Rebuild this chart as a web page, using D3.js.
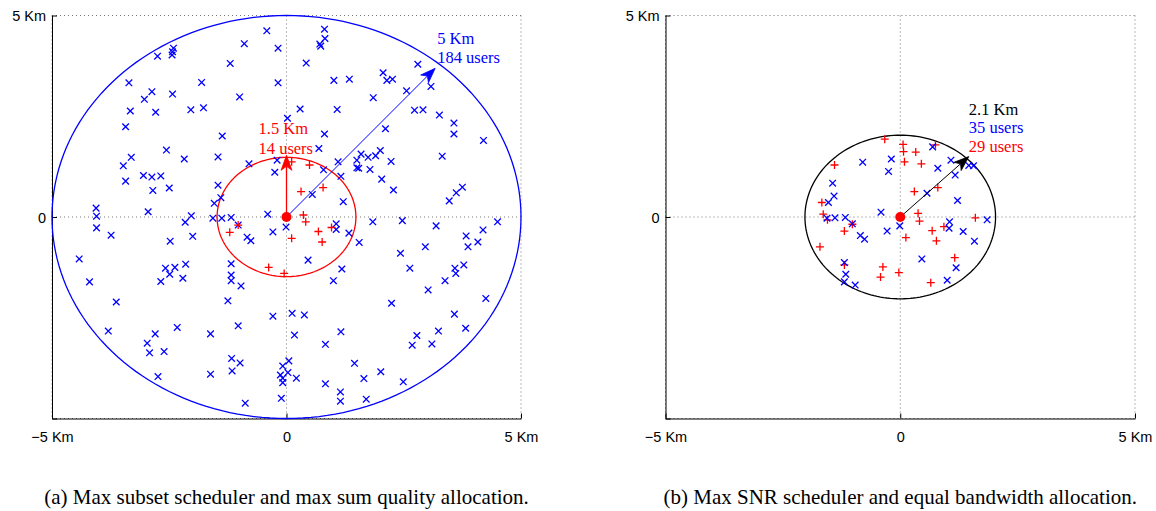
<!DOCTYPE html>
<html><head><meta charset="utf-8">
<script src="https://cdn.jsdelivr.net/npm/d3@7"></script>
<style>body{margin:0;background:#fff} svg{display:block}</style>
</head><body>
<svg id="chart" width="1156" height="511"></svg>
<script>
// ---------- data (km) ----------
const axisTicks = [-5, 0, 5];
const axisTickLabels = ["\u22125 Km", "0", "5 Km"];

// Panel (a): users not served (blue x) and served (red +)
const aUnserved = [
[-0.42,4.62],[-0.90,4.30],[-0.18,4.19],[-2.41,4.19],[-2.43,4.10],[-2.75,3.99],[-2.44,4.02],[-1.20,3.81],[-3.36,3.33],[-1.81,3.34],[-0.18,3.33],[-2.87,3.11],[-3.03,2.92],[-2.43,3.05],[-1.00,2.98],[-3.33,2.63],[-2.79,2.60],[-2.04,2.66],[-1.77,2.71],[-3.43,2.24],[-1.37,2.01],[0.02,2.45],[-2.56,1.66],[-3.31,1.48],[-3.48,1.27],[-2.18,1.44],[-1.46,1.49],[-0.80,1.32],[-0.20,1.41],[-0.25,1.11],[-3.43,0.89],[-3.05,1.03],[-2.87,0.99],[-2.68,1.02],[-2.85,0.66],[-2.50,0.72],[-1.46,0.79],[-1.40,0.48],[-1.54,0.34],[-4.06,0.22],[-4.05,0.02],[-2.95,0.13],[-2.03,0.03],[-1.57,-0.03],[-1.18,-0.01],[-0.40,0.07],
[-4.05,-0.27],[-2.16,-0.13],[-1.38,-0.03],[-1.03,-0.20],[-3.74,-0.45],[-2.00,-0.48],[-2.48,-0.60],[-0.84,-0.50],[-0.76,-0.59],[-0.29,-0.37],[-0.01,-0.25],[-4.42,-1.04],[-1.18,-1.16],[-2.15,-1.17],[-2.58,-1.27],[-2.38,-1.25],[-2.49,-1.42],[-2.21,-1.52],[-2.68,-1.60],[-4.20,-1.61],[-1.18,-1.44],[-1.18,-1.58],[-0.97,-1.71],[-1.25,-2.08],[-3.63,-2.11],[-0.29,-2.46],[-1.03,-2.70],[-2.33,-2.74],[-3.80,-2.83],[-2.80,-2.90],[-1.62,-2.90],[-2.97,-3.13],[-2.92,-3.37],[-2.61,-3.34],[-1.17,-3.51],[-0.99,-3.62],[-1.16,-3.82],[-1.62,-3.90],[-2.74,-3.96],[-0.88,-4.62],
[1.06,-0.17],[1.06,-0.31],[1.33,-0.40],[1.55,-0.63],[1.84,-0.12],[2.47,-0.09],[3.19,-0.22],[4.50,-0.12],[4.19,-0.32],[3.83,-0.47],[3.87,-0.74],[4.08,-0.62],[2.96,-0.74],[2.43,-0.90],[0.46,-1.07],[1.18,-1.29],[1.00,-1.58],[2.63,-1.27],[3.59,-1.27],[3.61,-1.40],[3.78,-1.19],[3.38,-1.58],[3.02,-1.81],[4.25,-2.02],[2.24,-2.14],[0.12,-2.39],[0.38,-2.43],[3.58,-2.41],[0.17,-2.93],[1.16,-2.85],[2.78,-2.94],[3.24,-2.83],[3.82,-2.76],[0.83,-3.16],[2.68,-3.18],[3.10,-3.15],[1.45,-3.63],[2.01,-3.84],[1.65,-4.01],[0.83,-4.14],[2.49,-4.09],[1.15,-4.34],[1.15,-4.57],[1.70,-4.52],
[0.05,-3.57],[-0.08,-3.70],[0.03,-3.86],[-0.13,-3.92],[-0.08,-4.00],[-0.08,-4.11],[0.21,-4.00],[-0.11,-4.50],
[0.81,4.66],[0.82,4.43],[0.71,4.29],[0.73,4.24],[0.42,3.82],[2.80,3.79],[2.06,3.58],[2.14,3.39],[2.26,3.42],[1.01,3.39],[1.34,3.42],[3.08,3.24],[2.56,3.13],[1.85,2.96],[0.29,2.68],[1.08,2.67],[2.73,2.65],[2.91,2.66],[3.26,2.53],[3.57,2.33],[3.57,2.06],[2.11,2.19],[0.81,2.06],[0.69,1.70],[4.20,1.90],[3.32,1.51],[1.59,1.56],[1.50,1.41],[1.74,1.48],[1.90,1.52],[2.00,1.65],[1.10,1.37],[1.50,1.22],[1.54,1.21],[1.78,1.18],[0.79,1.17],[1.16,1.01],[2.23,1.38],[2.03,0.94],[2.28,0.67],[0.55,0.56],[1.21,0.38],[3.75,0.74],[3.62,0.60],[3.47,0.40]
];
const aServed = [
[0.11,1.37],[0.49,1.29],[0.78,0.73],[0.31,0.63],[0.36,0.05],[0.41,-0.12],[0.11,-0.53],[0.68,-0.36],[0.76,-0.62],[0.96,-0.26],[-0.05,-1.40],[-1.03,-0.20],[-1.21,-0.38],[-0.38,-1.25]
];
const aRadii = [5, 1.48];
const aArrowTips = [[3.17, 3.69], [0, 1.53]];
const aLabels = [["5 Km", "184 users"], ["1.5 Km", "14 users"]];

// Panel (b)
const bUnserved = [
[0.69,1.74],[-0.19,1.44],[-0.80,1.36],[-0.25,1.13],[0.80,1.21],[1.08,1.41],[1.17,1.04],[1.46,1.28],[1.56,1.27],[-1.44,0.84],[-1.41,0.52],[-1.53,0.36],[0.57,0.59],[1.22,0.41],[-0.41,0.12],[-1.56,-0.03],[-1.39,-0.02],[-1.17,-0.01],[-1.02,-0.17],[-0.01,-0.22],[-0.28,-0.35],[-0.85,-0.46],[-0.76,-0.55],[1.05,-0.12],[1.04,-0.28],[1.34,-0.36],[1.85,-0.07],[1.58,-0.60],[0.46,-1.04],[1.19,-1.26],[-1.19,-1.13],[-1.16,-1.42],[-1.19,-1.61],[-0.96,-1.69],[1.00,-1.57]
];
const bServed = [
[-0.33,1.93],[0.06,1.80],[0.07,1.62],[0.33,1.61],[0.75,1.79],[0.09,1.37],[0.45,1.32],[-1.40,1.29],[0.30,0.63],[0.80,0.73],[-1.67,0.36],[-1.64,0.07],[-1.55,-0.07],[0.38,0.09],[0.41,-0.10],[1.60,-0.02],[0.93,-0.24],[-1.02,-0.18],[-1.19,-0.35],[0.68,-0.34],[0.77,-0.59],[0.12,-0.51],[-1.71,-0.74],[1.16,-1.01],[-1.19,-1.19],[-0.37,-1.24],[-0.42,-1.49],[-0.03,-1.38],[0.65,-1.63]
];
const bRadius = 2.03;
const bArrowTip = [1.46, 1.50];
const bLabels = ["2.1 Km", "35 users", "29 users"];

const captions = ["(a) Max subset scheduler and max sum quality allocation.",
                  "(b) Max SNR scheduler and equal bandwidth allocation."];

// ---------- drawing ----------
const svg = d3.select("#chart");
const BLUE = "#0000ff", RED = "#ff0000";
const top_ = 15.5, bottom_ = 418.5;

function panel(x0, x1) {
  const x = d3.scaleLinear().domain([-5, 5]).range([x0, x1]);
  const y = d3.scaleLinear().domain([-5, 5]).range([bottom_, top_]);
  const g = svg.append("g");
  // grid
  g.selectAll(".gx").data(axisTicks).join("line")
    .attr("x1", d => x(d)).attr("x2", d => x(d)).attr("y1", top_).attr("y2", bottom_)
    .attr("stroke", "#777").attr("stroke-width", 1).attr("stroke-dasharray", "1,3");
  g.selectAll(".gy").data(axisTicks).join("line")
    .attr("y1", d => y(d)).attr("y2", d => y(d)).attr("x1", x0).attr("x2", x1)
    .attr("stroke", "#777").attr("stroke-width", 1).attr("stroke-dasharray", "1,3");
  // axes
  const fmt = d => axisTickLabels[axisTicks.indexOf(d)];
  const ax = g.append("g").attr("transform", `translate(0,${bottom_})`)
    .call(d3.axisBottom(x).tickValues(axisTicks).tickFormat(fmt).tickSizeInner(-5).tickSizeOuter(0).tickPadding(13));
  const ay = g.append("g").attr("transform", `translate(${x0},0)`)
    .call(d3.axisLeft(y).tickValues(axisTicks).tickFormat(d => d === axisTicks[0] ? "" : fmt(d)).tickSizeInner(-5).tickSizeOuter(0).tickPadding(6));
  [ax, ay].forEach(a => {
    a.selectAll("text").attr("font-family", "'Liberation Sans', Arial, sans-serif").attr("font-size", 14.5).attr("fill", "#000");
    a.select(".domain").attr("stroke", "#000").attr("stroke-width", 1);
    a.selectAll(".tick line").attr("stroke", "#000");
  });
  ay.selectAll(".tick text").attr("dy", "0.35em");
  return {x, y, g};
}

function circlePath(p, r) {
  const pts = d3.range(0, 361, 2).map(a => [p.x(r * Math.cos(a * Math.PI / 180)), p.y(r * Math.sin(a * Math.PI / 180))]);
  return d3.line()(pts) + "Z";
}
function drawCircle(p, r, color, w) {
  p.g.append("path").attr("d", circlePath(p, r)).attr("fill", "none").attr("stroke", color).attr("stroke-width", w);
}
function drawX(p, data, color) {
  const s = 3.3;
  p.g.append("g").selectAll("path").data(data).join("path")
    .attr("d", d => { const cx = p.x(d[0]), cy = p.y(d[1]);
      return `M${cx-s},${cy-s}L${cx+s},${cy+s}M${cx-s},${cy+s}L${cx+s},${cy-s}`; })
    .attr("stroke", color).attr("stroke-width", 1.3).attr("fill", "none");
}
function drawPlus(p, data, color) {
  const s = 4;
  p.g.append("g").selectAll("path").data(data).join("path")
    .attr("d", d => { const cx = p.x(d[0]), cy = p.y(d[1]);
      return `M${cx-s},${cy}L${cx+s},${cy}M${cx},${cy-s}L${cx},${cy+s}`; })
    .attr("stroke", color).attr("stroke-width", 1.3).attr("fill", "none");
}
function drawArrow(p, tip, color, w) {
  const ox = p.x(0), oy = p.y(0), tx = p.x(tip[0]), ty = p.y(tip[1]);
  const dx = tx - ox, dy = ty - oy, len = Math.hypot(dx, dy);
  const ux = dx / len, uy = dy / len, nx = -uy, ny = ux;
  const L = 15, W = 5.5, N = 11;
  p.g.append("line").attr("x1", ox).attr("y1", oy).attr("x2", tx - ux * N).attr("y2", ty - uy * N)
    .attr("stroke", color).attr("stroke-width", w);
  const bx = tx - ux * L, by = ty - uy * L;
  p.g.append("path")
    .attr("d", `M${tx},${ty}L${bx + nx * W},${by + ny * W}L${tx - ux * N},${ty - uy * N}L${bx - nx * W},${by - ny * W}Z`)
    .attr("fill", color).attr("stroke", color).attr("stroke-width", 0.8);
  return [tx, ty];
}
function drawDot(p) {
  p.g.append("circle").attr("cx", p.x(0)).attr("cy", p.y(0)).attr("r", 5).attr("fill", RED);
}
function label(p, x, y, txt, color) {
  p.g.append("text").attr("x", x).attr("y", y).text(txt)
    .attr("font-family", "'Liberation Serif', 'Times New Roman', serif").attr("font-size", 16.5).attr("fill", color);
}

// Panel (a)
const pa = panel(52, 521);
drawCircle(pa, aRadii[0], BLUE, 1.3);
drawCircle(pa, aRadii[1], RED, 1.3);
drawX(pa, aUnserved, BLUE);
drawPlus(pa, aServed, RED);
const tA = drawArrow(pa, aArrowTips[0], BLUE, 1);
const tR = drawArrow(pa, aArrowTips[1], RED, 1.3);
drawDot(pa);
label(pa, tA[0] + 2, tA[1] - 24, aLabels[0][0], BLUE);
label(pa, tA[0] + 2, tA[1] - 5, aLabels[0][1], BLUE);
label(pa, tR[0] - 28, tR[1] - 21, aLabels[1][0], RED);
label(pa, tR[0] - 28, tR[1] - 1, aLabels[1][1], RED);

// Panel (b)
const pb = panel(665.5, 1135);
drawCircle(pb, bRadius, "#000", 1.3);
drawPlus(pb, bServed, RED);
drawX(pb, bUnserved, BLUE);
const tB = drawArrow(pb, bArrowTip, "#000", 1);
drawDot(pb);
label(pb, tB[0], tB[1] - 42, bLabels[0], "#000");
label(pb, tB[0], tB[1] - 24, bLabels[1], BLUE);
label(pb, tB[0], tB[1] - 5, bLabels[2], RED);

// captions
[[pa, captions[0]], [pb, captions[1]]].forEach(([p, c]) => {
  svg.append("text").attr("x", p.x(0)).attr("y", 504).attr("text-anchor", "middle").text(c)
    .attr("font-family", "'Liberation Serif', 'Times New Roman', serif").attr("font-size", 21).attr("fill", "#000");
});
</script>
</body></html>
